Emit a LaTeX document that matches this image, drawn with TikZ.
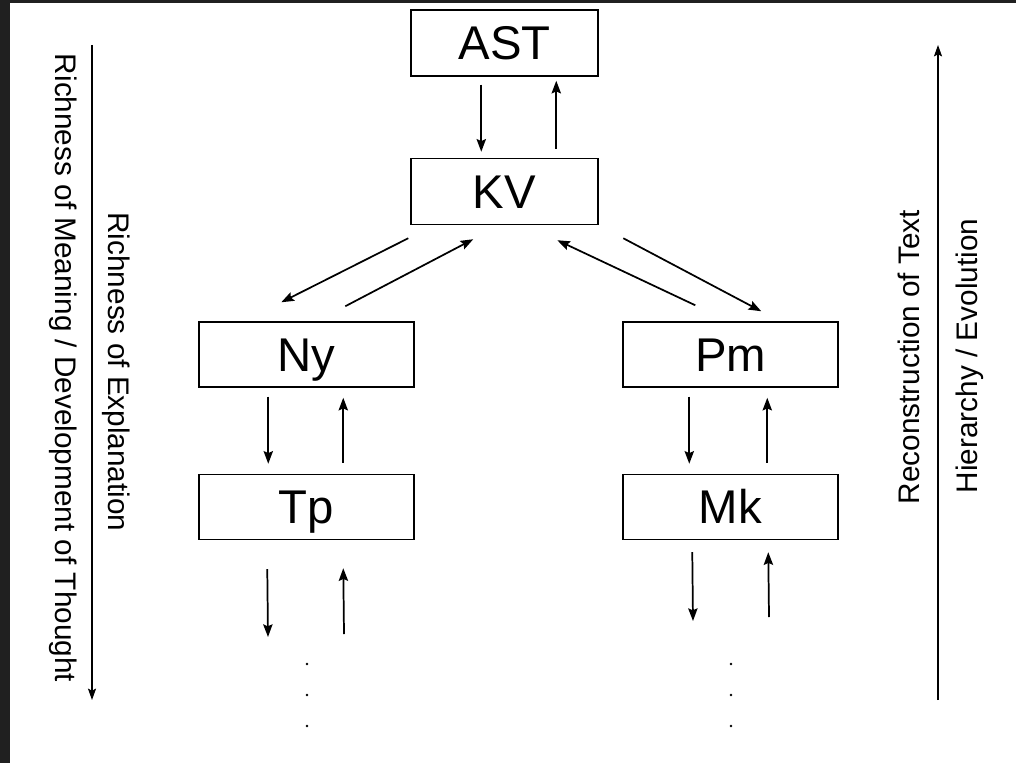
\documentclass[tikz,border=0pt]{standalone}
\usepackage{fontspec}
\setmainfont{Liberation Sans}
\usetikzlibrary{arrows.meta,calc}
\definecolor{framegray}{HTML}{202020}
\begin{document}
\begin{tikzpicture}[x=0.75pt,y=-0.75pt,
  box/.style={draw=black,line width=1.1pt,inner sep=0pt,
    font=\fontsize{35.5}{42}\selectfont,text height=25.4pt,text depth=0pt},
  topbox/.style={box,minimum width=140.25pt,minimum height=49.5pt},
  lowbox/.style={box,minimum width=161.25pt,minimum height=48.75pt},
  arr/.style={line width=1.3pt,-{Stealth[length=9.5pt,width=7pt,inset=1.5pt]}},
  axis/.style={line width=1.1pt,-{Stealth[length=8.5pt,width=6pt,inset=1.5pt]}},
  side/.style={font=\fontsize{22.3}{26}\selectfont,inner sep=0pt,anchor=base}]

% page with dark frame on the left and top
\fill[framegray] (0,0) rectangle (1016,763);
\fill[white] (10,3) rectangle (1016,763);
\useasboundingbox (0,0) rectangle (1016,763);

% boxes
\node[topbox] (AST) at (504.5,43) {AST};
\node[topbox] (KV)  at (504.5,191.5) {KV};
\node[lowbox] (Ny)  at (306.5,354.5) {Ny};
\node[lowbox] (Tp)  at (306.5,507) {Tp};
\node[lowbox] (Pm)  at (730.5,354.5) {Pm};
\node[lowbox] (Mk)  at (730.5,507) {Mk};

% AST <-> KV
\draw[arr] ($(AST.south west)+(71,8)$) -- ($(KV.north west)+(71,-6)$);
\draw[arr] ($(KV.north west)+(146,-9)$) -- ($(AST.south west)+(146,4)$);

% KV <-> Ny, KV <-> Pm
\draw[arr] ($(KV.south west)+(-2,13)$) -- ($(Ny.north west)+(83,-19)$);
\draw[arr] ($(Ny.north west)+(147,-15)$) -- ($(KV.south west)+(63,14)$);
\draw[arr] ($(Pm.north west)+(73,-16)$) -- ($(KV.south west)+(147,15)$);
\draw[arr] ($(KV.south west)+(213,13)$) -- ($(Pm.north west)+(139,-10)$);

% Ny <-> Tp, Pm <-> Mk
\draw[arr] ($(Ny.south west)+(70,9)$) -- ($(Tp.north west)+(70,-10)$);
\draw[arr] ($(Tp.north west)+(145,-11)$) -- ($(Ny.south west)+(145,10)$);
\draw[arr] ($(Pm.south west)+(67,9)$) -- ($(Mk.north west)+(67,-10)$);
\draw[arr] ($(Mk.north west)+(145,-11)$) -- ($(Pm.south west)+(145,10)$);

% open continuations below Tp and Mk
\coordinate (tpdn) at (268,637);
\coordinate (tpup) at (344,634);
\coordinate (mkdn) at (693,621);
\coordinate (mkup) at (769,617);
\draw[arr] ($(Tp.south west)+(69,29)$) -- (tpdn);
\draw[arr] (tpup) -- ($(Tp.south west)+(145,28)$);
\draw[arr] ($(Mk.south west)+(70,12)$) -- (mkdn);
\draw[arr] (mkup) -- ($(Mk.south west)+(146,12)$);

% vertical ellipses
\foreach \yy in {664,695,726}{
  \fill (307,\yy) circle[radius=1.1pt];
  \fill (731,\yy) circle[radius=1.1pt];
}

% side axes
\coordinate (ltop) at (92,45);
\coordinate (lbot) at (92,700);
\coordinate (rbot) at (938,700);
\coordinate (rtop) at (938,45);
\draw[axis] (ltop) -- (lbot);
\draw[axis] (rbot) -- (rtop);

% side labels
\node[side,rotate=-90] (meaning) at (55,368) {Richness of Meaning / Development of Thought};
\node[side,rotate=-90] (explain) at (108,372) {Richness of Explanation};
\node[side,rotate=90] (recon) at (919,357) {Reconstruction of Text};
\node[side,rotate=90] (hier) at (977,356) {Hierarchy / Evolution};
\end{tikzpicture}
\end{document}
